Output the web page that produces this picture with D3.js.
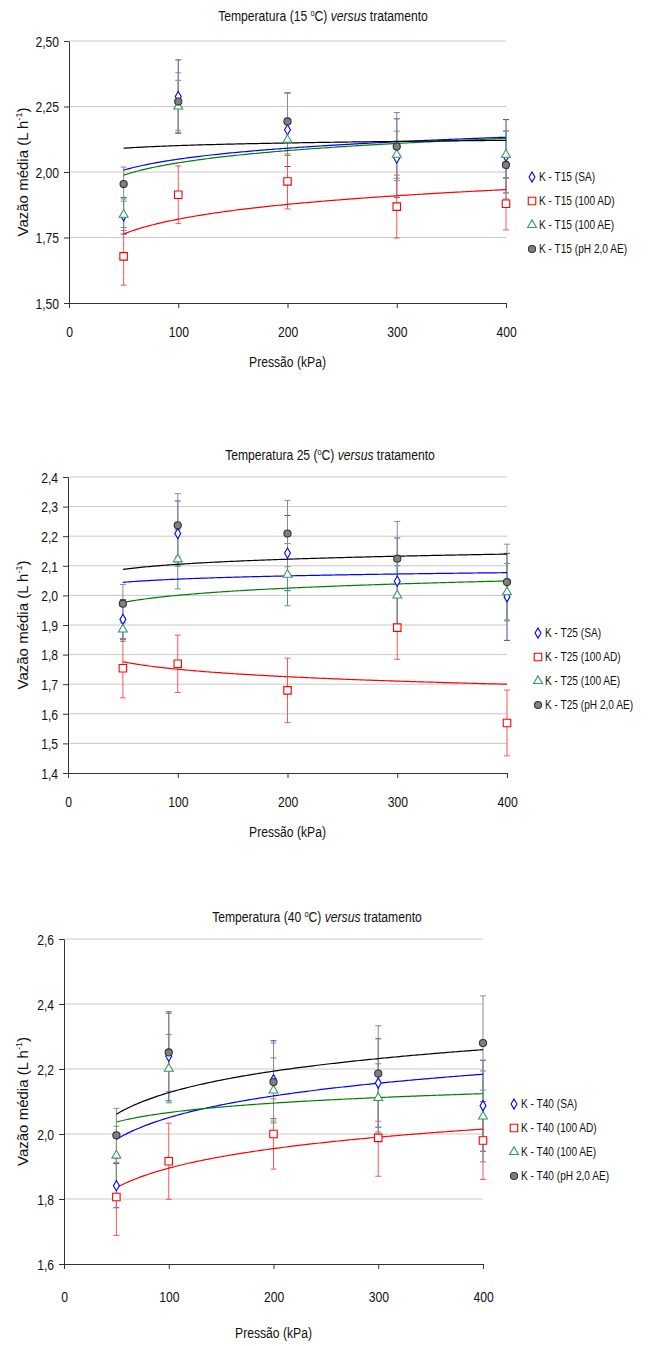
<!DOCTYPE html>
<html>
<head>
<meta charset="utf-8">
<script src="https://cdn.jsdelivr.net/npm/d3@7"></script>
<style>
  body { margin: 0; background: #fff; }
  svg { display: block; }
</style>
</head>
<body>
<svg id="chart" width="660" height="1346"></svg>
<script>
// ---- data ----
const pressure = [50, 100, 200, 300, 400];
const xTicks = [0, 100, 200, 300, 400];
const treatments = ['SA', '100 AD', '100 AE', 'pH 2,0 AE'];

// Temperatura 15 °C
const t15SA = [1.833, 2.288, 2.161, 2.053, 2.060];
const t15AD = [1.678, 1.913, 1.964, 1.868, 1.879];
const t15AE = [1.837, 2.250, 2.123, 2.066, 2.066];
const t15PH = [1.954, 2.269, 2.193, 2.097, 2.027];
const t15SAErr = [0.07, 0.14, 0.14, 0.15, 0.14];
const t15ADErr = [0.11, 0.11, 0.105, 0.12, 0.10];
const t15AEErr = [0.06, 0.10, 0.06, 0.09, 0.09];
const t15PHErr = [0.065, 0.11, 0.11, 0.13, 0.13];
const t15Ticks = [1.5, 1.75, 2.0, 2.25, 2.5];

// Temperatura 25 °C
const t25SA = [1.919, 2.209, 2.143, 2.048, 1.995];
const t25AD = [1.754, 1.769, 1.679, 1.891, 1.569];
const t25AE = [1.885, 2.122, 2.070, 2.000, 2.011];
const t25PH = [1.972, 2.237, 2.209, 2.124, 2.045];
const t25SAErr = [0.067, 0.11, 0.127, 0.146, 0.147];
const t25ADErr = [0.10, 0.097, 0.109, 0.107, 0.111];
const t25AEErr = [0.04, 0.10, 0.105, 0.10, 0.097];
const t25PHErr = [0.065, 0.107, 0.112, 0.126, 0.128];
const t25Ticks = [1.4, 1.5, 1.6, 1.7, 1.8, 1.9, 2.0, 2.1, 2.2, 2.3, 2.4];

// Temperatura 40 °C
const t40SA = [1.841, 2.239, 2.167, 2.157, 2.087];
const t40AD = [1.806, 1.916, 2.000, 1.988, 1.980];
const t40AE = [1.934, 2.201, 2.134, 2.111, 2.054];
const t40PH = [1.996, 2.251, 2.160, 2.186, 2.280];
const t40SAErr = [0.068, 0.137, 0.12, 0.136, 0.14];
const t40ADErr = [0.118, 0.117, 0.108, 0.118, 0.12];
const t40AEErr = [0.09, 0.105, 0.10, 0.105, 0.14];
const t40PHErr = [0.083, 0.12, 0.12, 0.147, 0.145];
const t40Ticks = [1.6, 1.8, 2.0, 2.2, 2.4, 2.6];

// ---- styles ----
// no narrow face installed, so Liberation Sans is squeezed horizontally instead
const ARIAL = "'Liberation Sans', Arial, sans-serif";
const SQUEEZE = 0.81;
const markerStyle = [
  { type: d3.symbolDiamond, size: 30, stroke: '#0000ff', fill: '#fff', line: '#0000ff', err: '#4848b8' },
  { type: d3.symbolSquare, size: 56, stroke: '#ff0000', fill: '#fff', line: '#ff0000', err: '#ff5555' },
  { type: d3.symbolTriangle, size: 34, stroke: '#339966', fill: '#fff', line: '#008000', err: '#5a9a7a' },
  { type: d3.symbolCircle, size: 40, stroke: '#333', fill: '#808080', line: '#000000', err: '#8c8c8c' }
];

const charts = [
  {
    key: 'T15', title: ['Temperatura (15 ', 'o', 'C) '],
    values: [t15SA, t15AD, t15AE, t15PH], errors: [t15SAErr, t15ADErr, t15AEErr, t15PHErr],
    ticks: t15Ticks, decimals: 2,
    box: { left: 69, right: 506, top: 41, bottom: 303 },
    tickGap: 23, xTitleGap: 64,
    titleX: 323, titleY: 21, legendX: 532, legendY: 177
  },
  {
    key: 'T25', title: ['Temperatura 25 (', 'o', 'C) '],
    values: [t25SA, t25AD, t25AE, t25PH], errors: [t25SAErr, t25ADErr, t25AEErr, t25PHErr],
    ticks: t25Ticks, decimals: 1,
    box: { left: 68, right: 507, top: 477, bottom: 773 },
    tickGap: 23, xTitleGap: 64,
    titleX: 330, titleY: 460, legendX: 538, legendY: 633
  },
  {
    key: 'T40', title: ['Temperatura (40 ', 'o', 'C) '],
    values: [t40SA, t40AD, t40AE, t40PH], errors: [t40SAErr, t40ADErr, t40AEErr, t40PHErr],
    ticks: t40Ticks, decimals: 1,
    box: { left: 64, right: 483, top: 939, bottom: 1264 },
    tickGap: 27, xTitleGap: 74,
    titleX: 317, titleY: 922, legendX: 514, legendY: 1104
  }
];

// least squares fit y = a + b ln(x), as the spreadsheet trendline does
function logFit(xs, ys) {
  const lx = xs.map(Math.log);
  const mx = d3.mean(lx), my = d3.mean(ys);
  let sxy = 0, sxx = 0;
  lx.forEach((v, i) => { sxy += (v - mx) * (ys[i] - my); sxx += (v - mx) * (v - mx); });
  const b = sxy / sxx;
  const a = my - b * mx;
  return x => a + b * Math.log(x);
}

// narrow text placed at (x, y)
function narrowText(parent, x, y, size) {
  return parent.append('text')
    .attr('transform', `translate(${x},${y}) scale(${SQUEEZE},1)`)
    .style('font-family', ARIAL)
    .style('font-size', size + 'px')
    .attr('fill', '#111');
}

const svg = d3.select('#chart');

function drawChart(c) {
  const { left, right, top, bottom } = c.box;
  const g = svg.append('g').attr('class', 'chart-' + c.key);
  const x = d3.scaleLinear().domain([0, 400]).range([left, right]);
  const y = d3.scaleLinear().domain(d3.extent(c.ticks)).range([bottom, top]);
  const fmt = v => v.toFixed(c.decimals).replace('.', ',');

  // gridlines
  g.append('g')
    .selectAll('line')
    .data(c.ticks.slice(1))
    .join('line')
    .attr('x1', left).attr('x2', right)
    .attr('y1', d => y(d)).attr('y2', d => y(d))
    .attr('stroke', '#c8c8c8').attr('stroke-width', 1);

  // axes
  const yAxis = g.append('g')
    .attr('transform', `translate(${left},0)`)
    .call(d3.axisLeft(y).tickValues(c.ticks).tickFormat(fmt).tickSize(5).tickSizeOuter(0));
  const xAxis = g.append('g')
    .attr('transform', `translate(0,${bottom})`)
    .call(d3.axisBottom(x).tickValues(xTicks).tickSize(5).tickSizeOuter(0));
  [yAxis, xAxis].forEach(ax => {
    ax.select('.domain').attr('stroke', '#333');
    ax.selectAll('.tick line').attr('stroke', '#333');
    ax.selectAll('.tick text')
      .attr('fill', '#111')
      .attr('transform', `scale(${SQUEEZE},1)`)
      .style('font-family', ARIAL)
      .style('font-size', '15px');
  });
  yAxis.selectAll('.tick text').attr('x', -10 / SQUEEZE).attr('dy', '0.35em');
  xAxis.selectAll('.tick text').attr('y', c.tickGap).attr('dy', '0.71em');

  // error bars
  c.values.forEach((vals, s) => {
    const st = markerStyle[s];
    const eg = g.append('g').attr('stroke', st.err).attr('stroke-width', 1);
    pressure.forEach((p, i) => {
      const lo = y(vals[i] - c.errors[s][i]), hi = y(vals[i] + c.errors[s][i]);
      eg.append('line').attr('x1', x(p)).attr('x2', x(p)).attr('y1', lo).attr('y2', hi);
      eg.append('line').attr('x1', x(p) - 3).attr('x2', x(p) + 3).attr('y1', lo).attr('y2', lo);
      eg.append('line').attr('x1', x(p) - 3).attr('x2', x(p) + 3).attr('y1', hi).attr('y2', hi);
    });
  });

  // logarithmic trendlines
  const line = d3.line().x(d => x(d[0])).y(d => y(d[1]));
  const xs = d3.range(50, 401, 2);
  c.values.forEach((vals, s) => {
    const f = logFit(pressure, vals);
    g.append('path')
      .attr('d', line(xs.map(p => [p, f(p)])))
      .attr('fill', 'none')
      .attr('stroke', markerStyle[s].line)
      .attr('stroke-width', 1.2);
  });

  // markers
  c.values.forEach((vals, s) => {
    const st = markerStyle[s];
    g.append('g')
      .selectAll('path')
      .data(vals)
      .join('path')
      .attr('transform', (d, i) => `translate(${x(pressure[i])},${y(d)})`)
      .attr('d', d3.symbol(st.type, st.size))
      .attr('fill', st.fill)
      .attr('stroke', st.stroke)
      .attr('stroke-width', 1.1);
  });

  // title
  const t = narrowText(g, c.titleX, c.titleY, 15).attr('text-anchor', 'middle');
  t.append('tspan').text(c.title[0]);
  t.append('tspan').text(c.title[1]).attr('dy', -5).style('font-size', '9px');
  t.append('tspan').text(c.title[2]).attr('dy', 5);
  t.append('tspan').text('versus').style('font-style', 'italic');
  t.append('tspan').text(' tratamento');

  // y axis title
  const yl = g.append('text')
    .attr('transform', `translate(28,${(top + bottom) / 2}) rotate(-90)`)
    .attr('text-anchor', 'middle')
    .style('font-family', ARIAL).style('font-size', '15px').attr('fill', '#111');
  yl.append('tspan').text('Vazão média (L h');
  yl.append('tspan').text('-1').attr('dy', -6).style('font-size', '9px');
  yl.append('tspan').text(')').attr('dy', 6);

  // x axis title
  narrowText(g, (left + right) / 2, bottom + c.xTitleGap, 15)
    .attr('text-anchor', 'middle')
    .text('Pressão (kPa)');

  // legend
  const lg = g.append('g').attr('transform', `translate(${c.legendX},${c.legendY})`);
  treatments.forEach((name, s) => {
    const st = markerStyle[s];
    const row = lg.append('g').attr('transform', `translate(0,${s * 24})`);
    row.append('path')
      .attr('d', d3.symbol(st.type, st.size))
      .attr('fill', st.fill).attr('stroke', st.stroke).attr('stroke-width', 1.1);
    narrowText(row, 7, 0, 12.5)
      .attr('dy', '0.35em')
      .text(`K - ${c.key} (${name})`);
  });
}

charts.forEach(drawChart);
</script>
</body>
</html>
